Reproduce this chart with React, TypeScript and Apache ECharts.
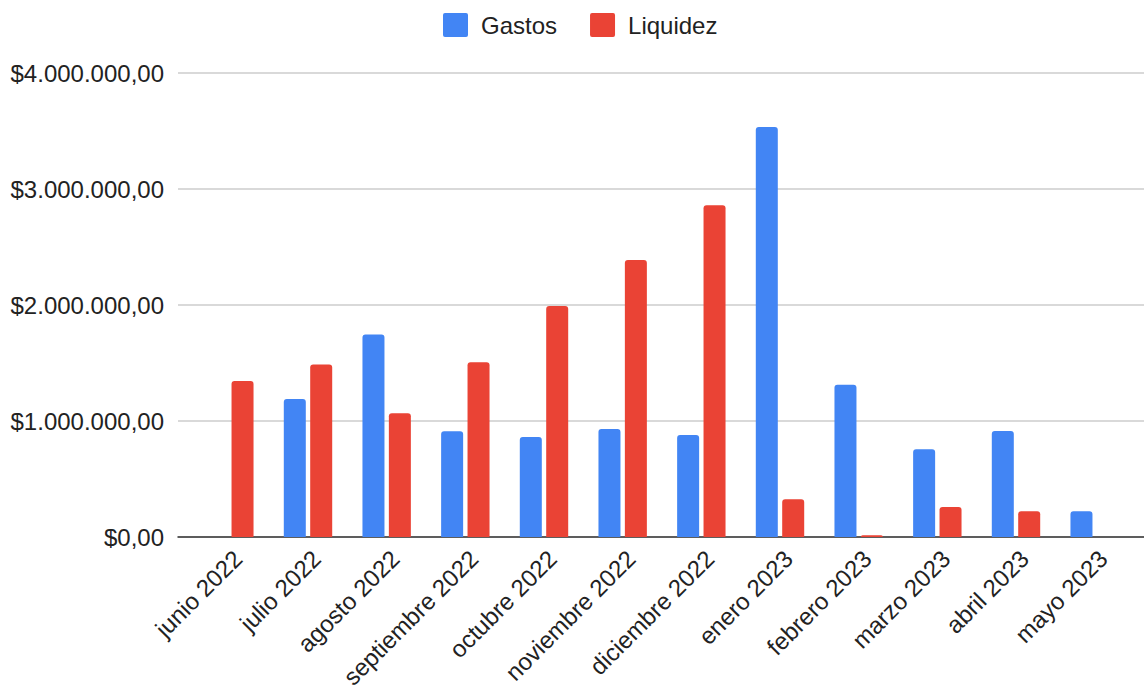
import React, { useEffect, useRef } from "react";
import * as echarts from "echarts";

const months = [
  "junio 2022",
  "julio 2022",
  "agosto 2022",
  "septiembre 2022",
  "octubre 2022",
  "noviembre 2022",
  "diciembre 2022",
  "enero 2023",
  "febrero 2023",
  "marzo 2023",
  "abril 2023",
  "mayo 2023",
];

const gastos = [0, 1190000, 1745000, 912000, 862000, 931000, 879000, 3534000, 1313000, 756000, 914000, 221000];
const liquidez = [1345000, 1486000, 1066000, 1506000, 1991000, 2388000, 2860000, 325000, 15000, 259000, 221000, 0];

const yMin = 0;
const yMax = 4000000;
const yStep = 1000000;

const FONT = "Arial, 'Liberation Sans', sans-serif";
const TEXT = "#222222";

// legend swatch: square with slightly rounded corners
const SWATCH =
  "path://M2,0 H23 Q25,0 25,2 V22 Q25,24 23,24 H2 Q0,24 0,22 V2 Q0,0 2,0 Z";

// "$4.000.000,00" style: dots for thousands, comma for decimals
function money(v: number): string {
  const [intPart, dec] = Math.abs(v).toFixed(2).split(".");
  const grouped = intPart.replace(/\B(?=(\d{3})+(?!\d))/g, ".");
  return "$" + grouped + "," + dec;
}

export default function App() {
  const ref = useRef<HTMLDivElement>(null);

  useEffect(() => {
    if (!ref.current) return;
    const chart = echarts.init(ref.current, undefined, { renderer: "svg" });
    chart.setOption({
      animation: false,
      backgroundColor: "#ffffff",
      textStyle: { fontFamily: FONT, color: TEXT },
      legend: {
        left: 438,
        top: 8,
        itemWidth: 25,
        itemHeight: 24,
        itemGap: 33,
        icon: SWATCH,
        textStyle: { fontFamily: FONT, fontSize: 24, color: TEXT, padding: [0, 0, 0, 8] },
        data: ["Gastos", "Liquidez"],
      },
      grid: [
        // wide grid: gridlines, y labels and baseline
        { left: 178, right: 0, top: 73, bottom: 152, outerBoundsMode: "none", containLabel: false },
        // bar grid
        { left: 190, right: 10, top: 73, bottom: 152, outerBoundsMode: "none", containLabel: false },
      ],
      xAxis: [
        {
          gridIndex: 0,
          type: "category",
          data: [""],
          axisLine: { show: true, lineStyle: { color: "#333333", width: 1.5 } },
          axisTick: { show: false },
          axisLabel: { show: false },
        },
        {
          gridIndex: 1,
          type: "category",
          data: months,
          axisLine: { show: false },
          axisTick: { show: false },
          axisLabel: {
            rotate: 45,
            margin: 9,
            interval: 0,
            verticalAlign: "top",
            fontFamily: FONT,
            fontSize: 24,
            color: TEXT,
          },
        },
      ],
      yAxis: [
        {
          gridIndex: 0,
          type: "value",
          min: yMin,
          max: yMax,
          interval: yStep,
          axisLine: { show: false },
          axisTick: { show: false },
          axisLabel: {
            margin: 14,
            fontFamily: FONT,
            fontSize: 24,
            color: TEXT,
            formatter: (v: number) => money(v),
          },
          splitLine: { lineStyle: { color: "#cccccc", width: 1.5 } },
        },
        {
          gridIndex: 1,
          type: "value",
          min: yMin,
          max: yMax,
          interval: yStep,
          show: false,
          splitLine: { show: false },
        },
      ],
      series: [
        {
          name: "Gastos",
          type: "bar",
          xAxisIndex: 1,
          yAxisIndex: 1,
          data: gastos,
          barWidth: 22,
          barGap: "20%",
          itemStyle: { color: "#4285F4", borderRadius: [3, 3, 0, 0] },
        },
        {
          name: "Liquidez",
          type: "bar",
          xAxisIndex: 1,
          yAxisIndex: 1,
          data: liquidez,
          barWidth: 22,
          barGap: "20%",
          itemStyle: { color: "#EA4335", borderRadius: [3, 3, 0, 0] },
        },
      ],
    });
    return () => chart.dispose();
  }, []);

  return (
    <div
      ref={ref}
      style={{ position: "fixed", left: 0, top: 0, width: 1144, height: 689 }}
    />
  );
}
